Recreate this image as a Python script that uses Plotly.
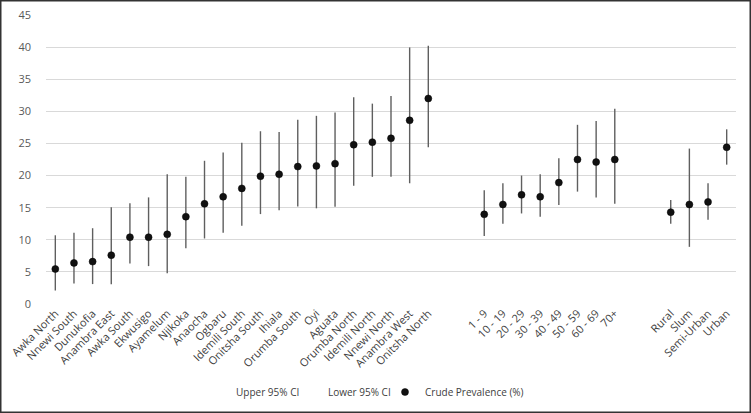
import plotly.graph_objects as go

districts = ["Awka North", "Nnewi South", "Dunukofia", "Anambra East", "Awka South", "Ekwusigo",
             "Ayamelum", "Njikoka", "Anaocha", "Ogbaru", "Idemili South", "Onitsha South", "Ihiala",
             "Orumba South", "Oyi", "Aguata", "Orumba North", "Idemili North", "Nnewi North",
             "Anambra West", "Onitsha North"]
district_prev = [5.45, 6.4, 6.6, 7.6, 10.4, 10.4, 10.85, 13.6, 15.6, 16.7, 18.0, 19.9, 20.2,
                 21.4, 21.5, 21.85, 24.8, 25.2, 25.8, 28.6, 32.0]
district_upper = [10.7, 11.1, 11.8, 15.05, 15.7, 16.6, 20.2, 19.8, 22.3, 23.6, 25.1, 26.9, 26.8,
                  28.7, 29.3, 29.8, 32.2, 31.2, 32.4, 39.95, 40.2]
district_lower = [2.1, 3.2, 3.1, 3.06, 6.3, 5.9, 4.8, 8.7, 10.2, 11.1, 12.2, 14.0, 14.6,
                  15.2, 14.9, 15.15, 18.4, 19.8, 19.8, 18.8, 24.4]

ages = ["1 - 9", "10 - 19", "20 - 29", "30 - 39", "40 - 49", "50 - 59", "60 - 69", "70+"]
age_prev = [13.96, 15.5, 17.0, 16.7, 18.9, 22.5, 22.1, 22.5]
age_upper = [17.7, 18.8, 20.0, 20.2, 22.7, 27.9, 28.5, 30.4]
age_lower = [10.6, 12.5, 14.1, 13.6, 15.4, 17.5, 16.6, 15.6]

settlements = ["Rural", "Slum", "Semi-Urban", "Urban"]
settle_prev = [14.3, 15.5, 15.9, 24.4]
settle_upper = [16.2, 24.2, 18.8, 27.2]
settle_lower = [12.5, 8.9, 13.1, 21.7]

# Build combined category axis with two blank slots between groups
labels = districts + ["", ""] + ages + ["", ""] + settlements
prev = district_prev + [None, None] + age_prev + [None, None] + settle_prev
upper = district_upper + [None, None] + age_upper + [None, None] + settle_upper
lower = district_lower + [None, None] + age_lower + [None, None] + settle_lower
xs = list(range(len(labels)))

px_, up_, lo_, pr_ = [], [], [], []
for i, p in enumerate(prev):
    if p is not None:
        px_.append(i)
        pr_.append(p)
        up_.append(upper[i] - p)
        lo_.append(p - lower[i])

fig = go.Figure()
fig.add_trace(go.Scatter(x=[None], y=[None], mode="lines", name="Upper 95% CI",
                         line=dict(color="rgba(0,0,0,0)", width=0), legend="legend"))
fig.add_trace(go.Scatter(x=[None], y=[None], mode="lines", name="Lower 95% CI",
                         line=dict(color="rgba(0,0,0,0)", width=0), legend="legend2"))
fig.add_trace(go.Scatter(
    x=px_, y=pr_, mode="markers", name="Crude Prevalence (%)", legend="legend3",
    marker=dict(color="#111111", size=7, line=dict(color="#000000", width=0.5)),
    error_y=dict(type="data", symmetric=False, array=up_, arrayminus=lo_,
                 color="#5f5f5f", thickness=1.4, width=0),
))

W, H = 751, 413
ml, mr, mt, mb = 46, 15, 15, 109
pw, ph = W - ml - mr, H - mt - mb
leg_y = (304 - 392) / ph
leg_common = dict(orientation="h", xanchor="left", y=leg_y, yanchor="middle",
                  bgcolor="rgba(0,0,0,0)", borderwidth=0,
                  font=dict(size=10, color="#404040"), itemwidth=30)

fig.update_layout(
    width=W, height=H,
    margin=dict(l=ml, r=mr, t=mt, b=mb, autoexpand=False),
    paper_bgcolor="white", plot_bgcolor="white",
    font=dict(family="Open Sans", size=11, color="#404040"),
    showlegend=True,
    legend=dict(x=(196 - ml) / pw, **leg_common),
    legend2=dict(x=(288 - ml) / pw, **leg_common),
    legend3=dict(x=(385 - ml) / pw, **leg_common),
    xaxis=dict(range=[-0.5, len(labels) - 0.5], tickmode="array", tickvals=xs, ticktext=labels,
               tickangle=-45, showgrid=False, zeroline=False, showline=False, ticks="",
               automargin=False, tickfont=dict(size=11, color="#404040")),
    yaxis=dict(range=[0, 45], dtick=5, showgrid=True, gridcolor="#d9d9d9", gridwidth=1,
               zeroline=False, showline=False, ticks="", ticklabelstandoff=14,
               automargin=False, tickfont=dict(size=11, color="#595959")),
    shapes=[dict(type="rect", xref="paper", yref="paper",
                 x0=-(ml - 0.75) / pw, x1=(W - ml - 0.75) / pw,
                 y0=(mt + ph - (H - 0.75)) / ph, y1=(mt + ph - 0.75) / ph,
                 line=dict(color="#333333", width=1.5), fillcolor="rgba(0,0,0,0)", layer="above")],
)

fig.write_html("out.html", config={"displayModeBar": False},
               post_script="document.body.style.margin='0';document.body.style.overflow='hidden';")
